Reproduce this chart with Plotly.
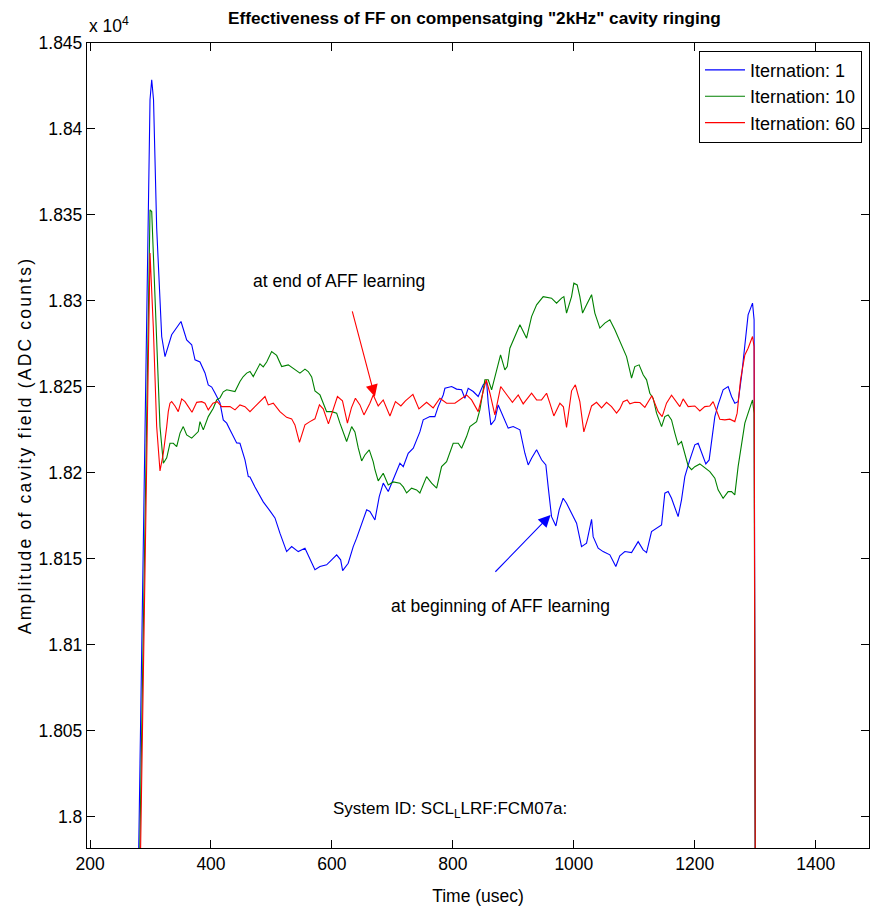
import plotly.graph_objects as go

# ---------------- data (Time in usec, amplitude in ADC counts) ----------------
t_iter1 = [280.0, 299.2, 302.0, 305.0, 310.2, 318.5, 324.0, 335.0, 350.4, 359.8, 368.1, 373.6, 381.8, 390.1,
           395.5, 401.2, 406.6, 414.9, 420.3, 426.0, 431.4, 436.9, 442.5, 447.9, 456.2, 461.7, 464.5, 472.7,
           475.5, 486.4, 497.5, 505.8, 514.0, 519.5, 525.1, 533.4, 544.3, 555.4, 563.6, 571.9, 580.2, 591.2,
           599.5, 607.8, 614.4, 617.7, 626.9, 635.2, 640.8, 649.1, 657.4, 662.8, 671.1, 678.2, 684.8, 693.1,
           701.3, 712.4, 717.9, 726.1, 734.5, 742.6, 745.4, 750.9, 762.0, 770.2, 775.7, 784.0, 786.8, 797.9,
           806.1, 814.4, 819.8, 825.3, 833.6, 841.8, 850.1, 855.7, 858.4, 862.8, 869.4, 874.9, 883.2, 891.4,
           899.7, 910.8, 919.0, 924.5, 930.1, 938.4, 946.6, 953.7, 957.5, 963.1, 970.3, 975.7, 982.3, 987.9,
           996.2, 1004.5, 1012.7, 1021.0, 1029.3, 1031.9, 1040.2, 1048.4, 1059.5, 1069.4, 1076.0, 1084.3,
           1095.4, 1106.3, 1114.6, 1120.2, 1128.4, 1136.7, 1145.0, 1150.4, 1155.9, 1161.5, 1167.0, 1172.4,
           1178.0, 1183.5, 1191.7, 1200.0, 1205.5, 1211.1, 1218.2, 1223.7, 1227.6, 1233.1, 1238.5, 1246.8,
           1255.1, 1260.7, 1266.1, 1271.6, 1277.2, 1282.7, 1288.1, 1295.4, 1298.0, 1300.0]
amp_iter1 = [17969.6, 18417.0, 18428.6, 18417.0, 18342.5, 18279.3, 18267.6, 18280.3, 18288.0, 18277.3, 18274.5,
             18265.7, 18264.5, 18258.1, 18251.1, 18249.9, 18246.4, 18240.7, 18230.8, 18228.9, 18225.0, 18221.1,
             18217.4, 18217.2, 18207.6, 18197.8, 18197.6, 18191.8, 18190.1, 18183.1, 18177.9, 18173.8, 18164.9,
             18159.1, 18154.2, 18157.1, 18154.2, 18156.2, 18149.4, 18143.6, 18145.5, 18146.5, 18149.4, 18152.3,
             18149.4, 18143.1, 18147.4, 18157.1, 18162.0, 18170.7, 18178.5, 18177.5, 18172.6, 18186.2, 18194.0,
             18189.1, 18196.0, 18205.6, 18203.6, 18211.4, 18214.3, 18221.1, 18223.8, 18230.8, 18232.7, 18232.7,
             18238.5, 18245.3, 18249.2, 18250.2, 18248.7, 18248.3, 18243.4, 18249.2, 18247.3, 18244.4, 18251.2,
             18253.1, 18240.5, 18227.9, 18230.8, 18239.5, 18232.7, 18226.0, 18226.9, 18225.0, 18211.4, 18204.6,
             18208.5, 18213.4, 18207.6, 18204.6, 18192.0, 18174.5, 18169.1, 18178.5, 18185.2, 18182.3, 18176.5,
             18170.7, 18157.1, 18159.1, 18173.0, 18162.9, 18156.2, 18154.2, 18152.3, 18145.5, 18151.7, 18154.2,
             18153.6, 18160.0, 18155.2, 18153.6, 18165.8, 18167.8, 18169.7, 18188.2, 18189.1, 18185.2, 18179.4,
             18174.5, 18184.3, 18197.8, 18207.5, 18216.3, 18217.2, 18211.4, 18205.2, 18207.5, 18219.2, 18232.7,
             18239.5, 18248.3, 18250.2, 18244.4, 18240.5, 18241.4, 18256.0, 18274.4, 18291.9, 18298.7, 18289.0,
             17960.0]

t_iter10 = [281.8, 299.2, 302.0, 307.4, 315.7, 321.2, 326.8, 332.2, 337.7, 343.3, 348.8, 354.2, 359.8, 368.1,
            379.0, 381.8, 387.3, 395.5, 403.8, 409.4, 414.9, 420.3, 426.0, 439.7, 447.9, 453.4, 459.0, 464.5,
            469.9, 481.0, 486.4, 492.1, 500.3, 508.6, 516.9, 527.8, 538.8, 547.1, 555.4, 560.8, 566.5, 571.9,
            580.2, 585.6, 591.2, 599.5, 607.8, 613.2, 618.7, 624.3, 632.6, 638.0, 643.5, 649.1, 654.5, 661.7,
            668.3, 671.1, 676.5, 684.8, 693.1, 701.3, 712.4, 717.9, 723.5, 731.7, 740.0, 745.4, 756.5, 764.8,
            773.1, 781.3, 789.6, 800.5, 808.8, 814.4, 822.6, 828.1, 839.2, 844.6, 852.9, 858.4, 864.0, 871.1,
            878.8, 885.9, 889.8, 894.2, 902.5, 910.8, 921.8, 930.1, 938.4, 949.3, 963.1, 971.4, 979.7, 983.5,
            987.9, 996.2, 1000.0, 1005.5, 1009.9, 1014.4, 1021.0, 1029.3, 1034.7, 1043.0, 1051.2, 1059.5,
            1067.8, 1076.0, 1087.1, 1095.4, 1100.8, 1107.9, 1114.6, 1120.2, 1125.6, 1131.1, 1136.7, 1145.0,
            1150.4, 1155.9, 1161.5, 1167.0, 1172.4, 1178.0, 1183.5, 1189.0, 1194.6, 1200.0, 1208.3, 1216.5,
            1224.8, 1233.1, 1238.5, 1246.8, 1255.1, 1260.7, 1266.1, 1271.6, 1277.2, 1282.7, 1288.1, 1292.1,
            1295.4, 1298.0, 1300.0]
amp_iter10 = [17969.6, 18353.0, 18352.0, 18304.7, 18226.9, 18205.6, 18208.7, 18217.2, 18217.2, 18215.3, 18223.1,
              18226.9, 18222.1, 18220.2, 18224.0, 18229.8, 18225.0, 18232.7, 18237.6, 18242.4, 18243.6, 18247.1,
              18248.3, 18247.3, 18253.1, 18256.0, 18258.0, 18258.9, 18256.0, 18263.4, 18261.6, 18264.5, 18270.5,
              18268.3, 18261.8, 18262.8, 18259.9, 18258.0, 18260.3, 18258.9, 18255.8, 18247.7, 18245.3, 18240.5,
              18235.6, 18235.6, 18234.7, 18228.9, 18223.1, 18218.2, 18226.9, 18223.8, 18214.5, 18206.9, 18210.4,
              18213.4, 18206.4, 18201.8, 18195.3, 18199.8, 18193.0, 18194.7, 18194.0, 18191.8, 18188.3, 18191.1,
              18190.1, 18188.3, 18197.8, 18194.0, 18191.1, 18203.6, 18206.5, 18217.2, 18217.2, 18214.3, 18221.1,
              18226.9, 18229.8, 18236.6, 18254.1, 18254.1, 18248.3, 18258.0, 18268.6, 18259.9, 18261.8, 18272.5,
              18279.3, 18286.1, 18278.3, 18290.9, 18297.7, 18302.5, 18301.6, 18298.7, 18301.6, 18302.5, 18292.9,
              18302.5, 18310.3, 18309.3, 18302.5, 18292.9, 18297.7, 18303.6, 18292.9, 18284.2, 18287.1, 18289.0,
              18283.2, 18276.2, 18267.6, 18255.1, 18261.8, 18262.8, 18257.0, 18254.1, 18246.3, 18243.4, 18234.7,
              18226.9, 18232.7, 18233.7, 18230.8, 18223.1, 18216.3, 18218.2, 18211.4, 18204.0, 18201.8, 18203.6,
              18205.2, 18202.7, 18200.7, 18196.9, 18190.1, 18185.2, 18189.1, 18189.1, 18187.2, 18203.6, 18215.3,
              18228.9, 18234.7, 18238.5, 18242.4, 18234.7, 17960.0]

t_iter60 = [283.1, 299.2, 304.6, 310.2, 315.7, 321.2, 326.8, 329.4, 332.2, 335.0, 340.5, 345.9, 351.6, 357.0,
            362.5, 368.6, 376.4, 384.6, 390.1, 395.5, 403.3, 410.4, 417.7, 426.0, 431.4, 439.7, 447.9, 456.2,
            464.5, 475.5, 489.3, 494.7, 503.0, 514.0, 525.1, 533.4, 538.8, 546.3, 555.4, 563.6, 571.9, 579.3,
            585.6, 594.2, 603.3, 609.1, 617.4, 625.6, 632.2, 638.8, 646.3, 652.9, 662.8, 668.3, 676.5, 684.8,
            695.9, 705.0, 714.0, 721.5, 733.9, 743.8, 756.5, 767.4, 778.5, 789.6, 803.3, 814.4, 822.6, 830.9,
            841.8, 850.1, 855.1, 861.2, 869.4, 879.0, 888.8, 898.4, 908.0, 916.2, 930.1, 938.4, 946.6, 954.9,
            960.3, 966.9, 976.9, 982.7, 987.9, 996.2, 1002.5, 1009.9, 1016.5, 1023.6, 1029.3, 1037.5, 1045.8,
            1054.0, 1062.3, 1070.6, 1076.0, 1081.5, 1088.1, 1092.6, 1100.8, 1109.1, 1117.4, 1128.9, 1134.7,
            1139.4, 1146.0, 1153.2, 1161.5, 1169.8, 1175.2, 1180.7, 1189.0, 1200.0, 1208.3, 1216.5, 1224.8,
            1230.3, 1235.9, 1241.3, 1249.6, 1257.9, 1266.1, 1270.0, 1275.6, 1282.7, 1288.1, 1295.4, 1298.0,
            1300.0]
amp_iter60 = [17969.6, 18327.8, 18285.1, 18226.9, 18201.1, 18211.4, 18226.9, 18235.6, 18240.5, 18241.4, 18238.9,
              18235.6, 18243.0, 18241.4, 18238.5, 18235.2, 18241.0, 18241.4, 18240.5, 18236.6, 18240.5, 18241.4,
              18238.5, 18238.5, 18238.5, 18236.6, 18239.5, 18238.5, 18235.6, 18239.5, 18244.4, 18239.5, 18240.5,
              18235.6, 18232.3, 18231.4, 18227.9, 18217.7, 18227.9, 18229.8, 18231.4, 18239.5, 18237.2, 18228.5,
              18238.5, 18244.4, 18241.9, 18228.9, 18237.8, 18243.4, 18239.5, 18233.7, 18240.5, 18245.3, 18238.9,
              18242.4, 18233.1, 18241.4, 18238.9, 18241.9, 18245.6, 18237.2, 18241.0, 18237.8, 18243.4, 18240.5,
              18240.5, 18243.4, 18245.3, 18242.4, 18235.6, 18247.3, 18254.1, 18246.3, 18233.7, 18250.2, 18245.9,
              18241.0, 18245.3, 18240.1, 18246.3, 18242.4, 18242.4, 18246.3, 18240.5, 18233.1, 18240.5, 18238.4,
              18226.4, 18247.7, 18251.2, 18241.4, 18223.8, 18231.4, 18238.9, 18241.0, 18237.8, 18241.0, 18238.5,
              18234.7, 18237.2, 18241.4, 18242.4, 18240.1, 18241.0, 18240.9, 18238.1, 18244.8, 18240.1, 18235.6,
              18232.7, 18240.5, 18245.1, 18241.0, 18238.5, 18243.0, 18238.5, 18238.9, 18236.0, 18238.5, 18238.9,
              18241.4, 18235.6, 18231.2, 18230.8, 18231.2, 18229.8, 18234.7, 18254.1, 18268.6, 18272.5, 18279.3,
              18273.4, 17960.0]

series_names = ["Iternation: 1", "Iternation: 10", "Iternation: 60"]
series_colors = ["#0000ff", "#008000", "#ff0000"]

x_ticks = [200, 400, 600, 800, 1000, 1200, 1400]
y_ticks = [18000, 18050, 18100, 18150, 18200, 18250, 18300, 18350, 18400, 18450]
y_tick_labels = ["1.8", "1.805", "1.81", "1.815", "1.82", "1.825", "1.83", "1.835", "1.84", "1.845"]

FONT = "Liberation Sans, Arial, sans-serif"
TXT = 17.5

fig = go.Figure()
for t, a, name, col in zip([t_iter1, t_iter10, t_iter60], [amp_iter1, amp_iter10, amp_iter60],
                           series_names, series_colors):
    fig.add_trace(go.Scatter(x=t, y=a, mode="lines", name=name,
                             line=dict(color=col, width=1.1)))

axis_common = dict(showline=True, linecolor="black", linewidth=1.3, mirror="ticks",
                   ticks="inside", ticklen=8, tickwidth=1, tickcolor="black",
                   showgrid=False, zeroline=False, automargin=False,
                   tickfont=dict(family=FONT, size=17.5, color="black"))

fig.update_layout(
    width=872, height=909,
    margin=dict(l=87, r=3, t=43, b=61),
    paper_bgcolor="white", plot_bgcolor="white",
    font=dict(family=FONT, size=TXT, color="black"),
    xaxis=dict(range=[195, 1488], tickvals=x_ticks,
               title=dict(text="Time (usec)", font=dict(family=FONT, size=TXT), standoff=16),
               **axis_common),
    yaxis=dict(range=[17981.8, 18450], tickvals=y_ticks, ticktext=y_tick_labels,
               title=dict(text="Amplitude of cavity field (ADC counts)",
                          font=dict(family=FONT, size=TXT), standoff=2),
               **axis_common),
    legend=dict(x=0.7826, y=0.9905, xanchor="left", yanchor="top",
                bgcolor="white", bordercolor="black", borderwidth=1,
                font=dict(family=FONT, size=18, color="black"),
                tracegroupgap=0, itemwidth=40),
    showlegend=True,
)

annotations = [
    dict(text="<b>Effectiveness of FF on compensatging \"2kHz\" cavity ringing</b>",
         xref="paper", yref="paper", x=0.495, y=1.031, xanchor="center", yanchor="middle",
         showarrow=False, font=dict(family=FONT, size=17.2, color="black")),
    dict(text="x 10<sup>4</sup>", xref="paper", yref="paper", x=0.0, y=1.006, xanchor="left",
         yanchor="bottom", showarrow=False, font=dict(family=FONT, size=TXT, color="black")),
    dict(text="at end of AFF learning", xref="x", yref="y", x=611.6, y=18311.7,
         showarrow=False, font=dict(family=FONT, size=TXT, color="black")),
    dict(text="at beginning of AFF learning", xref="x", yref="y", x=879.3, y=18122.6,
         showarrow=False, font=dict(family=FONT, size=TXT, color="black")),
    dict(text="System ID: SCL<sub>L</sub>LRF:FCM07a:", xref="x", yref="y", x=795, y=18004,
         showarrow=False, font=dict(family=FONT, size=17, color="black")),
    dict(text="", xref="x", yref="y", x=671.0, y=18244.2, ax=633.0, ay=18294.8,
         axref="x", ayref="y", showarrow=True, arrowhead=2, arrowsize=2.2, arrowwidth=1.1,
         arrowcolor="#ff0000"),
    dict(text="", xref="x", yref="y", x=961.5, y=18175.5, ax=867.8, ay=18141.6,
         axref="x", ayref="y", showarrow=True, arrowhead=2, arrowsize=2.2, arrowwidth=1.1,
         arrowcolor="#0000ff"),
]
fig.update_layout(annotations=annotations)

post = """
document.body.style.margin = '0';
var gd = document.getElementById('{plot_id}');
var yt = gd.querySelector('.ytitle');
if (yt) { yt.style.letterSpacing = '2.2px'; }
"""
fig.write_html("out.html", post_script=post, config={"displayModeBar": False})
